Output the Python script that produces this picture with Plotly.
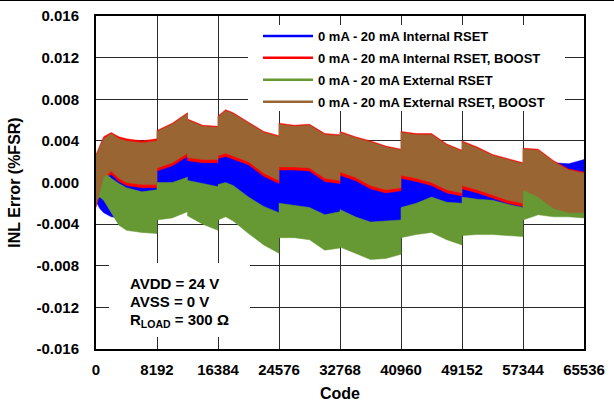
import plotly.graph_objects as go

# ---------------- data (INL error in %FSR, envelope of each dense trace) ----------------
codes = [0, 512, 1024, 2048, 3072, 4096, 6144, 8191, 8192, 10240, 12287, 12288, 14336,
         16383, 16384, 17408, 18432, 20480, 22528, 24575, 24576, 26624, 28672, 30720,
         32767, 32768, 34816, 36864, 38912, 40959, 40960, 43008, 45056, 47104, 49151,
         49152, 51200, 53248, 55296, 57343, 57344, 59392, 61440, 63488, 65535]

int_rset_hi = [-0.0019, -0.0007, 0.0008, 0.0014, 0.0007, 0.0003, 0.0001, 0.0001, 0.0017, 0.0022,
               0.0031, 0.0027, 0.0025, 0.0025, 0.0029, 0.0031, 0.0028, 0.0023, 0.0012, 0.0005,
               0.0018, 0.0018, 0.0017, 0.0007, 0.0005, 0.0013, 0.0008, 0.0000, -0.0004, -0.0002,
               0.0010, 0.0007, 0.0003, -0.0004, -0.0007, 0.0000, -0.0004, -0.0009, -0.0014, -0.0017,
               -0.0004, 0.0010, 0.0019, 0.0018, 0.0022]
int_rset_lo = [-0.0018, -0.0025, -0.0029, -0.0033, -0.0034, -0.0034, -0.0034, -0.0033, -0.0022, -0.0020,
               -0.0015, -0.0018, -0.0021, -0.0025, -0.0020, -0.0018, -0.0020, -0.0030, -0.0038, -0.0045,
               -0.0036, -0.0037, -0.0039, -0.0046, -0.0044, -0.0042, -0.0048, -0.0053, -0.0052, -0.0051,
               -0.0039, -0.0035, -0.0030, -0.0035, -0.0037, -0.0030, -0.0031, -0.0033, -0.0036, -0.0038,
               -0.0022, -0.0020, -0.0026, -0.0030, -0.0033]

int_boost_hi = [0.0027, 0.0036, 0.0044, 0.0048, 0.0044, 0.0042, 0.0040, 0.0042, 0.0050, 0.0057,
                0.0067, 0.0061, 0.0055, 0.0054, 0.0064, 0.0070, 0.0067, 0.0058, 0.0049, 0.0045,
                0.0057, 0.0055, 0.0056, 0.0047, 0.0046, 0.0049, 0.0044, 0.0040, 0.0035, 0.0032,
                0.0049, 0.0047, 0.0047, 0.0037, 0.0031, 0.0040, 0.0034, 0.0027, 0.0023, 0.0019,
                0.0033, 0.0032, 0.0021, 0.0013, 0.0010]
int_boost_lo = [-0.0024, -0.0012, 0.0003, 0.0008, 0.0001, -0.0003, -0.0005, -0.0005, 0.0011, 0.0016,
                0.0025, 0.0021, 0.0019, 0.0019, 0.0023, 0.0025, 0.0022, 0.0017, 0.0006, -0.0001,
                0.0012, 0.0012, 0.0011, 0.0001, -0.0001, 0.0007, 0.0002, -0.0006, -0.0010, -0.0008,
                0.0004, 0.0001, -0.0003, -0.0010, -0.0013, -0.0006, -0.0010, -0.0015, -0.0020, -0.0023,
                -0.0010, -0.0017, -0.0028, -0.0032, -0.0032]

ext_rset_hi = [0.0017, 0.0012, 0.0010, 0.0004, -0.0001, -0.0005, -0.0009, -0.0007, 0.0000, 0.0000,
               0.0005, 0.0002, -0.0001, -0.0004, -0.0002, 0.0000, -0.0003, -0.0014, -0.0023, -0.0029,
               -0.0020, -0.0022, -0.0024, -0.0031, -0.0028, -0.0026, -0.0033, -0.0038, -0.0037, -0.0036,
               -0.0024, -0.0020, -0.0014, -0.0019, -0.0020, -0.0014, -0.0016, -0.0017, -0.0021, -0.0024,
               -0.0007, -0.0001, -0.0013, -0.0020, -0.0024]
ext_rset_lo = [-0.0017, -0.0014, -0.0017, -0.0029, -0.0041, -0.0046, -0.0048, -0.0049, -0.0036, -0.0034,
               -0.0028, -0.0032, -0.0040, -0.0046, -0.0036, -0.0033, -0.0037, -0.0049, -0.0060, -0.0068,
               -0.0053, -0.0053, -0.0055, -0.0065, -0.0063, -0.0062, -0.0068, -0.0074, -0.0073, -0.0069,
               -0.0053, -0.0050, -0.0048, -0.0055, -0.0060, -0.0051, -0.0050, -0.0050, -0.0051, -0.0052,
               -0.0036, -0.0031, -0.0033, -0.0033, -0.0034]

ext_boost_hi = [0.0026, 0.0034, 0.0042, 0.0047, 0.0042, 0.0040, 0.0038, 0.0040, 0.0049, 0.0056,
                0.0066, 0.0060, 0.0054, 0.0053, 0.0063, 0.0069, 0.0066, 0.0057, 0.0048, 0.0044,
                0.0056, 0.0054, 0.0055, 0.0046, 0.0045, 0.0048, 0.0043, 0.0039, 0.0034, 0.0031,
                0.0048, 0.0046, 0.0046, 0.0036, 0.0030, 0.0039, 0.0033, 0.0026, 0.0022, 0.0018,
                0.0032, 0.0031, 0.0020, 0.0012, 0.0009]
ext_boost_lo = [-0.0022, -0.0010, 0.0005, 0.0011, 0.0004, 0.0000, -0.0002, -0.0002, 0.0014, 0.0019,
                0.0028, 0.0024, 0.0022, 0.0022, 0.0026, 0.0028, 0.0025, 0.0020, 0.0009, 0.0002,
                0.0015, 0.0015, 0.0014, 0.0004, 0.0002, 0.0010, 0.0005, -0.0003, -0.0007, -0.0005,
                0.0007, 0.0004, 0.0000, -0.0007, -0.0010, -0.0003, -0.0007, -0.0012, -0.0017, -0.0020,
                -0.0007, -0.0014, -0.0025, -0.0029, -0.0029]

series_names = ["0 mA - 20 mA Internal RSET",
                "0 mA - 20 mA Internal RSET, BOOST",
                "0 mA - 20 mA External RSET",
                "0 mA - 20 mA External RSET, BOOST"]
series_colors = ["#0000FF", "#FF0000", "#669933", "#996633"]

x_tickvals = [0, 8192, 16384, 24576, 32768, 40960, 49152, 57344, 65536]
x_ticktext = ["0", "8192", "16384", "24576", "32768", "40960", "49152", "57344", "65536"]
y_tickvals = [-0.016, -0.012, -0.008, -0.004, 0.0, 0.004, 0.008, 0.012, 0.016]
y_ticktext = ["-0.016", "-0.012", "-0.008", "-0.004", "0.000", "0.004", "0.008", "0.012", "0.016"]

note_lines = ["AVDD = 24 V", "AVSS = 0 V", "R<sub>LOAD</sub> = 300 Ω"]

FONT = "Liberation Sans, Arial, sans-serif"

# plot area in pixels
L, R, T, B = 96, 584, 16, 349
W, H = R - L, B - T


def px(x):
    return (x - L) / W


def py(y):
    return (B - y) / H


# ---------------- figure ----------------
fig = go.Figure()

bands = [(int_rset_hi, int_rset_lo), (int_boost_hi, int_boost_lo),
         (ext_rset_hi, ext_rset_lo), (ext_boost_hi, ext_boost_lo)]

for (hi, lo), name, col in zip(bands, series_names, series_colors):
    fig.add_trace(go.Scatter(
        x=codes + codes[::-1], y=hi + lo[::-1],
        mode="lines", fill="toself", fillcolor=col,
        line=dict(color=col, width=0.5),
        showlegend=False, hoverinfo="skip", name=name))

for i, (name, col) in enumerate(zip(series_names, series_colors)):
    fig.add_trace(go.Scatter(x=[None], y=[None], mode="lines", legendgroup=f"g{i}",
                             line=dict(color=col, width=2.5), name=name))

shapes = [
    # white box behind legend
    dict(type="rect", xref="paper", yref="paper", x0=px(248), x1=px(565), y0=py(111), y1=py(25),
         fillcolor="white", line=dict(width=0), layer="above"),
    # white box behind note
    dict(type="rect", xref="paper", yref="paper", x0=px(109), x1=px(250), y0=py(337), y1=py(263),
         fillcolor="white", line=dict(width=0), layer="above"),
    # thin line at top of image
    dict(type="line", xref="paper", yref="paper", x0=px(0), x1=px(614), y0=py(0.5), y1=py(0.5),
         line=dict(color="black", width=1)),
]

annotations = []
note_y = [283, 301, 320]
for txt, yy in zip(note_lines, note_y):
    annotations.append(dict(
        xref="paper", yref="paper", x=px(128), y=py(yy),
        xanchor="left", yanchor="middle", showarrow=False, text=txt,
        font=dict(family=FONT, size=15, color="black", weight="bold")))

fig.update_layout(
    width=614, height=402,
    margin=dict(l=L, r=614 - R, t=T, b=402 - B),
    paper_bgcolor="white", plot_bgcolor="white",
    font=dict(family=FONT, size=15, color="black", weight="bold"),
    shapes=shapes, annotations=annotations,
    legend=dict(x=px(258), y=py(21), xanchor="left", yanchor="top",
                bgcolor="rgba(0,0,0,0)", borderwidth=0, itemwidth=50, tracegroupgap=2,
                font=dict(family=FONT, size=13, color="black", weight="bold")),
)

fig.update_xaxes(range=[0, 65536], tickvals=x_tickvals, ticktext=x_ticktext,
                 showgrid=True, gridcolor="#2a2a2a", gridwidth=1,
                 showline=True, linecolor="black", linewidth=2, mirror=True,
                 ticks="", zeroline=False, automargin=False, ticklabelstandoff=6,
                 title=dict(text="Code", standoff=17, font=dict(size=16)))
fig.update_yaxes(range=[-0.016, 0.016], tickvals=y_tickvals, ticktext=y_ticktext,
                 showgrid=True, gridcolor="#2a2a2a", gridwidth=1,
                 showline=True, linecolor="black", linewidth=2, mirror=True,
                 ticks="", zeroline=False, ticklabelstandoff=12, automargin=False,
                 title=dict(text="INL Error (%FSR)", standoff=12, font=dict(size=16)))

fig.write_html("out.html", config={"displayModeBar": False},
               post_script="document.body.style.margin='0px';")
